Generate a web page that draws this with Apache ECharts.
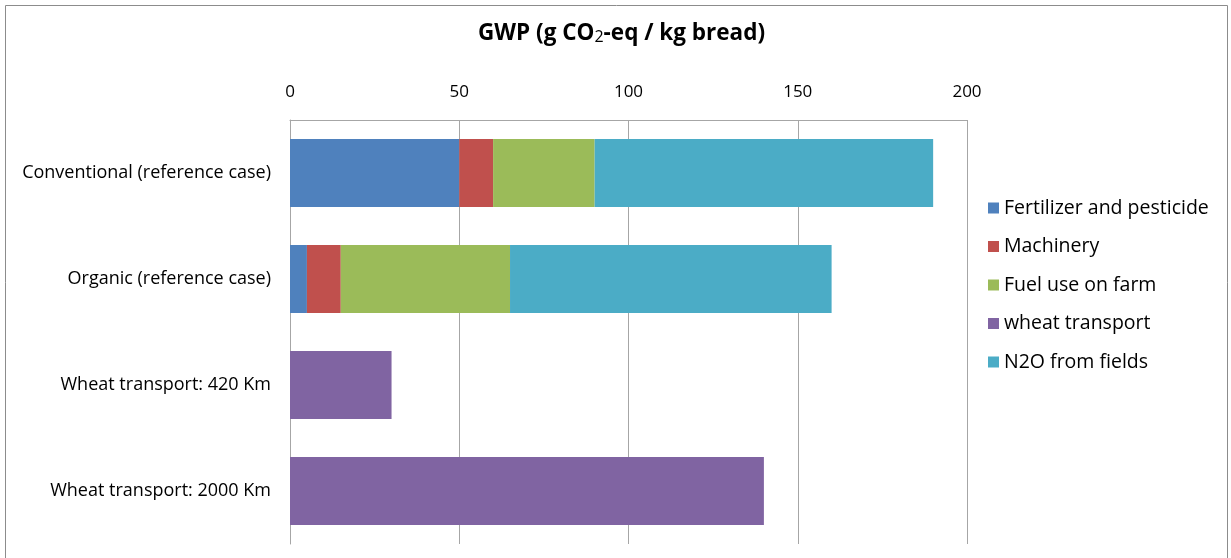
<!DOCTYPE html>
<html><head><meta charset="utf-8">
<script src="https://cdn.jsdelivr.net/npm/echarts@6/dist/echarts.min.js"></script>
<style>html,body{margin:0;padding:0;background:#fff}#c{width:1231px;height:558px}</style>
</head><body><div id="c"></div>
<script>
const categories = ['Conventional (reference case)', 'Organic (reference case)', 'Wheat transport: 420 Km', 'Wheat transport: 2000 Km'];
const seriesNames = ['Fertilizer and pesticide', 'Machinery', 'Fuel use on farm', 'wheat transport', 'N2O from fields'];
const fertilizer = [50, 5, 0, 0];
const machinery = [10, 10, 0, 0];
const fuel = [30, 50, 0, 0];
const wheatTransport = [0, 0, 30, 140];
const n2o = [100, 95, 0, 0];
const xTicks = [0, 50, 100, 150, 200];

const colors = ['#4F81BD', '#C0504D', '#9BBB59', '#8064A2', '#4BACC6'];
const values = [fertilizer, machinery, fuel, wheatTransport, n2o];
const FONT = 'Open Sans';

const chart = echarts.init(document.getElementById('c'));
chart.setOption({
  animation: false,
  textStyle: { fontFamily: FONT },
  graphic: [{ type: 'rect', shape: { x: 5.5, y: 5.5, width: 1222, height: 560 }, style: { fill: 'none', stroke: '#8c8c8c', lineWidth: 1 }, silent: true }],
  title: {
    text: 'GWP (g CO{sub|2}-eq / kg bread)',
    left: 473, top: 17,
    textStyle: {
      fontFamily: FONT, fontSize: 22.5, fontWeight: 'bold', color: '#000',
      rich: { sub: { fontFamily: FONT, fontSize: 16, fontWeight: 'normal', color: '#000', verticalAlign: 'bottom', padding: [7, 0, 0, 0] } }
    }
  },
  legend: {
    orient: 'vertical', left: 983, top: 192,
    itemWidth: 11, itemHeight: 11, itemGap: 16.5,
    icon: 'rect',
    textStyle: { fontFamily: FONT, fontSize: 19.5, color: '#000', lineHeight: 22 },
    data: seriesNames
  },
  grid: { left: 290, right: 264, top: 120, bottom: 14, containLabel: false },
  xAxis: {
    type: 'value', position: 'top', min: xTicks[0], max: xTicks[xTicks.length - 1], interval: 50,
    axisLine: { show: true, lineStyle: { color: '#a6a6a6' } },
    axisTick: { show: false },
    axisLabel: { fontFamily: FONT, fontSize: 17, color: '#000', margin: 19 },
    splitLine: { show: true, lineStyle: { color: '#a6a6a6', width: 1 } }
  },
  yAxis: {
    type: 'category', inverse: true, data: categories,
    axisLine: { show: true, lineStyle: { color: '#a6a6a6' } },
    axisTick: { show: false },
    axisLabel: { fontFamily: FONT, fontSize: 18, color: '#000', margin: 19 }
  },
  series: seriesNames.map((n, i) => ({
    name: n, type: 'bar', stack: 'total', barWidth: '64%',
    itemStyle: { color: colors[i] },
    data: values[i]
  }))
});
</script></body></html>
